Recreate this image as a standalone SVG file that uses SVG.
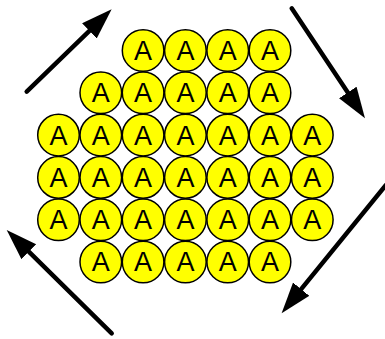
<svg xmlns="http://www.w3.org/2000/svg" width="385" height="339" viewBox="0 0 385 339">
  <defs>
    <style>
      .flow line { stroke: #000; stroke-width: 4.5; stroke-linecap: round; }
    </style>
    <marker id="head" markerUnits="userSpaceOnUse" markerWidth="32" markerHeight="22" refX="0" refY="10.5" orient="auto">
      <path d="M0,0 L31,10.5 L0,21 Z" fill="#000"/>
    </marker>
    <!-- one yellow ball with its letter, reused for every cell of the cluster -->
    <g id="atom-shape">
      <circle cx="0" cy="0" r="20.8" fill="#ffff00" stroke="#000" stroke-width="1.5"/>
      <text x="0" y="9.4" font-family="Liberation Sans, Arial, sans-serif" font-size="27" fill="#000" text-anchor="middle">A</text>
    </g>
  </defs>

  <rect width="385" height="339" fill="#fff"/>

  <!-- circulation arrows around the cluster -->
  <g id="connectors" class="flow">
    <line x1="26.7" y1="91.7" x2="89.4" y2="30.9" marker-end="url(#head)"/>
    <line x1="291.7" y1="8.3" x2="347.8" y2="92.5" marker-end="url(#head)"/>
    <line x1="386" y1="185" x2="301.2" y2="289.2" marker-end="url(#head)"/>
    <line x1="111.7" y1="333.3" x2="28.8" y2="251.7" marker-end="url(#head)"/>
  </g>

  <!-- row 1 -->
  <g id="a-1-1"><use href="#atom-shape" x="143.1" y="50.5"/></g>
  <g id="a-1-2"><use href="#atom-shape" x="185.4" y="50.5"/></g>
  <g id="a-1-3"><use href="#atom-shape" x="227.7" y="50.5"/></g>
  <g id="a-1-4"><use href="#atom-shape" x="270" y="50.5"/></g>
  <!-- row 2 -->
  <g id="a-2-1"><use href="#atom-shape" x="100.8" y="92.8"/></g>
  <g id="a-2-2"><use href="#atom-shape" x="143.1" y="92.8"/></g>
  <g id="a-2-3"><use href="#atom-shape" x="185.4" y="92.8"/></g>
  <g id="a-2-4"><use href="#atom-shape" x="227.7" y="92.8"/></g>
  <g id="a-2-5"><use href="#atom-shape" x="270" y="92.8"/></g>
  <!-- row 3 -->
  <g id="a-3-1"><use href="#atom-shape" x="58.5" y="135.1"/></g>
  <g id="a-3-2"><use href="#atom-shape" x="100.8" y="135.1"/></g>
  <g id="a-3-3"><use href="#atom-shape" x="143.1" y="135.1"/></g>
  <g id="a-3-4"><use href="#atom-shape" x="185.4" y="135.1"/></g>
  <g id="a-3-5"><use href="#atom-shape" x="227.7" y="135.1"/></g>
  <g id="a-3-6"><use href="#atom-shape" x="270" y="135.1"/></g>
  <g id="a-3-7"><use href="#atom-shape" x="312.3" y="135.1"/></g>
  <!-- row 4 -->
  <g id="a-4-1"><use href="#atom-shape" x="58.5" y="177.4"/></g>
  <g id="a-4-2"><use href="#atom-shape" x="100.8" y="177.4"/></g>
  <g id="a-4-3"><use href="#atom-shape" x="143.1" y="177.4"/></g>
  <g id="a-4-4"><use href="#atom-shape" x="185.4" y="177.4"/></g>
  <g id="a-4-5"><use href="#atom-shape" x="227.7" y="177.4"/></g>
  <g id="a-4-6"><use href="#atom-shape" x="270" y="177.4"/></g>
  <g id="a-4-7"><use href="#atom-shape" x="312.3" y="177.4"/></g>
  <!-- row 5 -->
  <g id="a-5-1"><use href="#atom-shape" x="58.5" y="219.7"/></g>
  <g id="a-5-2"><use href="#atom-shape" x="100.8" y="219.7"/></g>
  <g id="a-5-3"><use href="#atom-shape" x="143.1" y="219.7"/></g>
  <g id="a-5-4"><use href="#atom-shape" x="185.4" y="219.7"/></g>
  <g id="a-5-5"><use href="#atom-shape" x="227.7" y="219.7"/></g>
  <g id="a-5-6"><use href="#atom-shape" x="270" y="219.7"/></g>
  <g id="a-5-7"><use href="#atom-shape" x="312.3" y="219.7"/></g>
  <!-- row 6 -->
  <g id="a-6-1"><use href="#atom-shape" x="100.8" y="262"/></g>
  <g id="a-6-2"><use href="#atom-shape" x="143.1" y="262"/></g>
  <g id="a-6-3"><use href="#atom-shape" x="185.4" y="262"/></g>
  <g id="a-6-4"><use href="#atom-shape" x="227.7" y="262"/></g>
  <g id="a-6-5"><use href="#atom-shape" x="270" y="262"/></g>
</svg>
